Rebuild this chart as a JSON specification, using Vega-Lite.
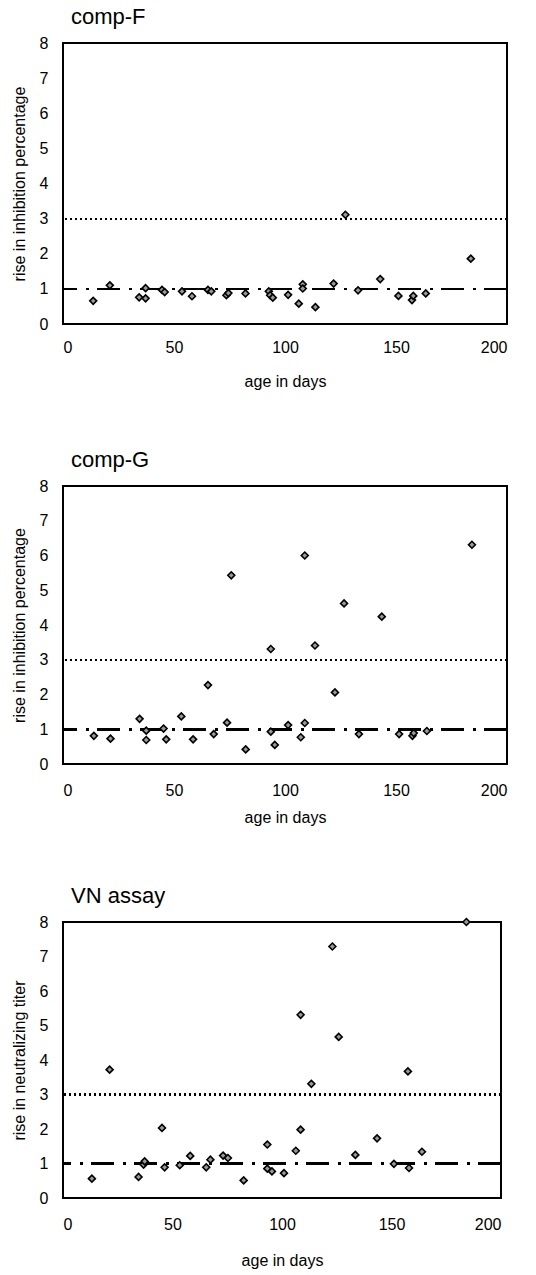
{
  "$schema": "https://vega.github.io/schema/vega-lite/v6.json",
  "background": "white",
  "padding": {"left": 10, "top": 5, "right": 10, "bottom": 5},
  "spacing": 58,
  "config": {
    "view": {"stroke": "black", "strokeWidth": 2},
    "font": "Liberation Sans",
    "axis": {"grid": false, "ticks": false, "domain": false, "labelFontSize": 16, "titleFontSize": 16, "labelColor": "black", "titleColor": "black", "titleFontWeight": "normal", "labelFont": "Liberation Sans", "titleFont": "Liberation Sans", "labelOverlap": false},
    "title": {"fontSize": 22, "fontWeight": "normal", "anchor": "start", "frame": "group", "font": "Liberation Sans", "color": "black"}
  },
  "datasets": {
    "compF": [
      {"age": 13.6, "rise": 0.66}, {"age": 21.1, "rise": 1.1}, {"age": 34.3, "rise": 0.76}, {"age": 37.2, "rise": 0.73},
      {"age": 37.2, "rise": 1.02}, {"age": 44.6, "rise": 0.97}, {"age": 45.8, "rise": 0.91}, {"age": 53.6, "rise": 0.93},
      {"age": 58.1, "rise": 0.79}, {"age": 65.3, "rise": 0.97}, {"age": 66.8, "rise": 0.93}, {"age": 73.6, "rise": 0.82},
      {"age": 74.5, "rise": 0.88}, {"age": 82.2, "rise": 0.87}, {"age": 92.7, "rise": 0.93}, {"age": 93.3, "rise": 0.82},
      {"age": 94.5, "rise": 0.75}, {"age": 101.4, "rise": 0.83}, {"age": 106.2, "rise": 0.58}, {"age": 108, "rise": 1.13},
      {"age": 108, "rise": 1.01}, {"age": 113.7, "rise": 0.48}, {"age": 121.9, "rise": 1.15}, {"age": 127.2, "rise": 3.11},
      {"age": 132.9, "rise": 0.96}, {"age": 142.9, "rise": 1.28}, {"age": 151.1, "rise": 0.8}, {"age": 157.2, "rise": 0.68},
      {"age": 157.8, "rise": 0.8}, {"age": 163.4, "rise": 0.87}, {"age": 183.7, "rise": 1.86}
    ],
    "compG": [
      {"age": 13.9, "rise": 0.81}, {"age": 21.4, "rise": 0.73}, {"age": 34.5, "rise": 1.3}, {"age": 37.5, "rise": 0.96},
      {"age": 37.5, "rise": 0.69}, {"age": 45.3, "rise": 1.02}, {"age": 46.5, "rise": 0.71}, {"age": 53.3, "rise": 1.37},
      {"age": 58.6, "rise": 0.71}, {"age": 65.3, "rise": 2.27}, {"age": 67.9, "rise": 0.86}, {"age": 73.9, "rise": 1.19},
      {"age": 75.8, "rise": 5.43}, {"age": 82.3, "rise": 0.42}, {"age": 93.6, "rise": 3.31}, {"age": 93.6, "rise": 0.93},
      {"age": 95.4, "rise": 0.55}, {"age": 101.4, "rise": 1.12}, {"age": 107.1, "rise": 0.77}, {"age": 108.9, "rise": 1.18},
      {"age": 108.9, "rise": 6.0}, {"age": 113.5, "rise": 3.41}, {"age": 122.5, "rise": 2.06}, {"age": 126.6, "rise": 4.62},
      {"age": 133.3, "rise": 0.86}, {"age": 143.6, "rise": 4.24}, {"age": 151.4, "rise": 0.86}, {"age": 157.4, "rise": 0.81},
      {"age": 158, "rise": 0.89}, {"age": 163.9, "rise": 0.95}, {"age": 184.2, "rise": 6.31}
    ],
    "vn": [
      {"age": 13.2, "rise": 0.56}, {"age": 21.3, "rise": 3.72}, {"age": 34.5, "rise": 0.61}, {"age": 36.8, "rise": 0.97},
      {"age": 37.3, "rise": 1.06}, {"age": 45.2, "rise": 2.03}, {"age": 46.4, "rise": 0.89}, {"age": 53.3, "rise": 0.95},
      {"age": 58.1, "rise": 1.22}, {"age": 65.4, "rise": 0.89}, {"age": 67.3, "rise": 1.11}, {"age": 73.1, "rise": 1.23},
      {"age": 75.3, "rise": 1.16}, {"age": 82.5, "rise": 0.51}, {"age": 93.3, "rise": 1.55}, {"age": 93.3, "rise": 0.85},
      {"age": 95.4, "rise": 0.77}, {"age": 100.9, "rise": 0.72}, {"age": 106.3, "rise": 1.37}, {"age": 108.5, "rise": 1.98},
      {"age": 108.5, "rise": 5.31}, {"age": 113.4, "rise": 3.31}, {"age": 123, "rise": 7.29}, {"age": 125.9, "rise": 4.67},
      {"age": 133.5, "rise": 1.25}, {"age": 143.4, "rise": 1.73}, {"age": 151.1, "rise": 0.99}, {"age": 157.5, "rise": 3.67},
      {"age": 158, "rise": 0.87}, {"age": 163.9, "rise": 1.34}, {"age": 184.2, "rise": 8.0}
    ]
  },
  "vconcat": [
    {
      "title": {"text": "comp-F", "dx": 8, "offset": 6},
      "width": 444, "height": 281,
      "data": {"name": "compF"},
      "layer": [
        {"mark": {"type": "rule", "strokeDash": [2, 3], "strokeWidth": 1.5, "color": "black"}, "encoding": {"y": {"datum": 3, "type": "quantitative", "scale": {"domain": [0, 8], "nice": false}, "axis": {"values": [0, 1, 2, 3, 4, 5, 6, 7, 8], "title": "rise in inhibition percentage", "labelPadding": 15, "titlePadding": 12}}}},
        {"mark": {"type": "rule", "strokeDash": [23, 8, 3, 9], "strokeWidth": 2, "color": "black"}, "encoding": {"y": {"datum": 1, "type": "quantitative", "axis": {"values": [0, 1, 2, 3, 4, 5, 6, 7, 8], "title": "rise in inhibition percentage", "labelPadding": 15, "titlePadding": 12}}}},
        {"mark": {"type": "point", "shape": "diamond", "filled": true, "fill": "#999999", "stroke": "black", "strokeWidth": 1.6, "size": 48, "opacity": 1},
         "encoding": {
           "x": {"field": "age", "type": "quantitative", "scale": {"domain": [0, 200], "nice": false}, "axis": {"values": [0, 50, 100, 150, 200], "title": "age in days", "labelPadding": 15, "titlePadding": 18}},
           "y": {"field": "rise", "type": "quantitative", "scale": {"domain": [0, 8], "nice": false}, "axis": {"values": [0, 1, 2, 3, 4, 5, 6, 7, 8], "title": "rise in inhibition percentage", "labelPadding": 15, "titlePadding": 12}}
         }}
      ]
    },
    {
      "title": {"text": "comp-G", "dx": 8, "offset": 6},
      "width": 444, "height": 278,
      "data": {"name": "compG"},
      "layer": [
        {"mark": {"type": "rule", "strokeDash": [2, 3], "strokeWidth": 1.5, "color": "black"}, "encoding": {"y": {"datum": 3, "type": "quantitative", "scale": {"domain": [0, 8], "nice": false}, "axis": {"values": [0, 1, 2, 3, 4, 5, 6, 7, 8], "title": "rise in inhibition percentage", "labelPadding": 15, "titlePadding": 12}}}},
        {"mark": {"type": "rule", "strokeDash": [23, 8, 3, 9], "strokeWidth": 2, "color": "black"}, "encoding": {"y": {"datum": 1, "type": "quantitative", "axis": {"values": [0, 1, 2, 3, 4, 5, 6, 7, 8], "title": "rise in inhibition percentage", "labelPadding": 15, "titlePadding": 12}}}},
        {"mark": {"type": "point", "shape": "diamond", "filled": true, "fill": "#999999", "stroke": "black", "strokeWidth": 1.6, "size": 48, "opacity": 1},
         "encoding": {
           "x": {"field": "age", "type": "quantitative", "scale": {"domain": [0, 200], "nice": false}, "axis": {"values": [0, 50, 100, 150, 200], "title": "age in days", "labelPadding": 18, "titlePadding": 11}},
           "y": {"field": "rise", "type": "quantitative", "scale": {"domain": [0, 8], "nice": false}, "axis": {"values": [0, 1, 2, 3, 4, 5, 6, 7, 8], "title": "rise in inhibition percentage", "labelPadding": 15, "titlePadding": 12}}
         }}
      ]
    },
    {
      "title": {"text": "VN assay", "dx": 8, "offset": 6},
      "width": 438, "height": 276,
      "data": {"name": "vn"},
      "layer": [
        {"mark": {"type": "rule", "strokeDash": [2, 3], "strokeWidth": 1.5, "color": "black"}, "encoding": {"y": {"datum": 3, "type": "quantitative", "scale": {"domain": [0, 8], "nice": false}, "axis": {"values": [0, 1, 2, 3, 4, 5, 6, 7, 8], "title": "rise in neutralizing titer", "labelPadding": 15, "titlePadding": 12}}}},
        {"mark": {"type": "rule", "strokeDash": [23, 8, 3, 9], "strokeWidth": 2, "color": "black"}, "encoding": {"y": {"datum": 1, "type": "quantitative", "axis": {"values": [0, 1, 2, 3, 4, 5, 6, 7, 8], "title": "rise in neutralizing titer", "labelPadding": 15, "titlePadding": 12}}}},
        {"mark": {"type": "point", "shape": "diamond", "filled": true, "fill": "#999999", "stroke": "black", "strokeWidth": 1.6, "size": 48, "opacity": 1},
         "encoding": {
           "x": {"field": "age", "type": "quantitative", "scale": {"domain": [0, 200], "nice": false}, "axis": {"values": [0, 50, 100, 150, 200], "title": "age in days", "labelPadding": 18, "titlePadding": 20}},
           "y": {"field": "rise", "type": "quantitative", "scale": {"domain": [0, 8], "nice": false}, "axis": {"values": [0, 1, 2, 3, 4, 5, 6, 7, 8], "title": "rise in neutralizing titer", "labelPadding": 15, "titlePadding": 12}}
         }}
      ]
    }
  ]
}
